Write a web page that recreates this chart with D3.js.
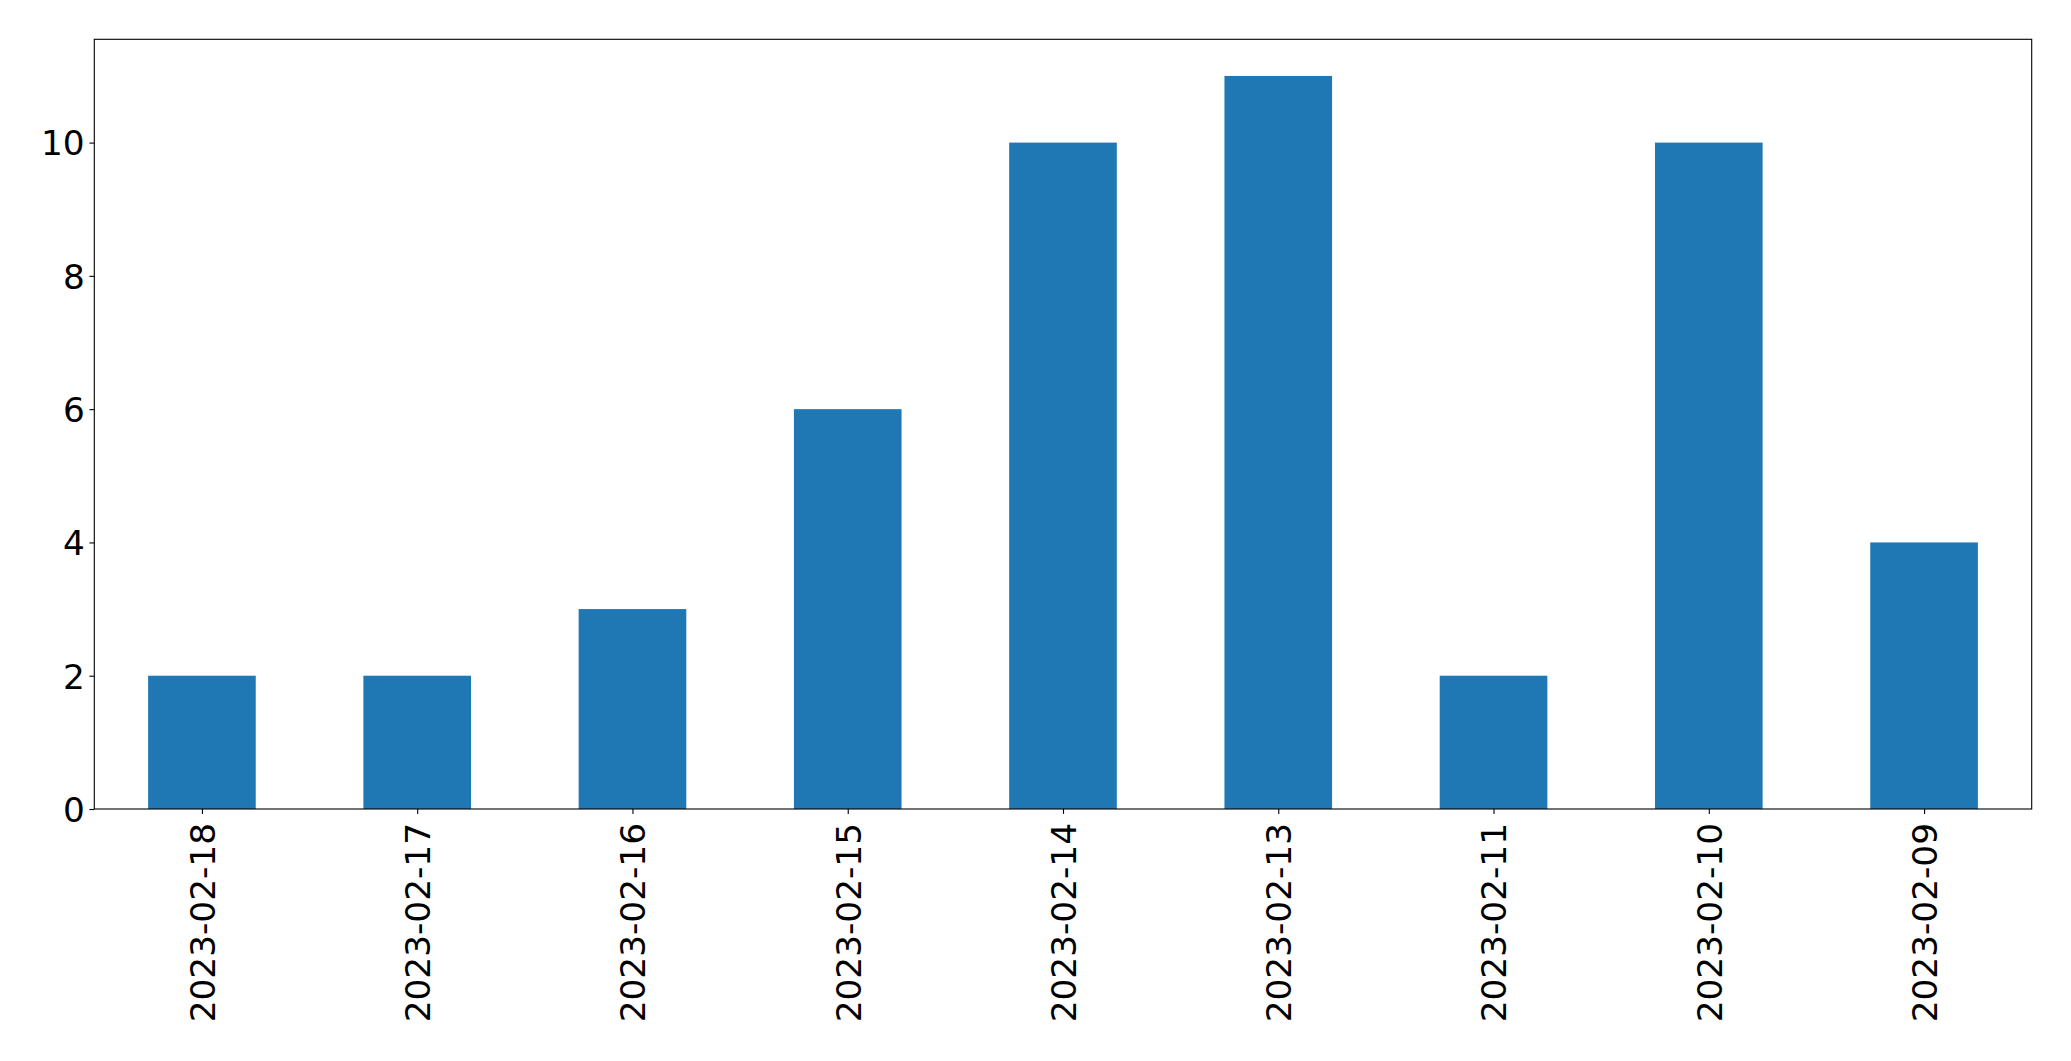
<!DOCTYPE html>
<html>
<head>
<meta charset="utf-8">
<script src="https://cdn.jsdelivr.net/npm/d3@7"></script>
<style>
  html, body { margin: 0; padding: 0; background: #fff; }
  svg { display: block; }
  text { font-family: "DejaVu Sans", sans-serif; fill: #000; }
</style>
</head>
<body>
<script>
const categories = ["2023-02-18","2023-02-17","2023-02-16","2023-02-15","2023-02-14","2023-02-13","2023-02-11","2023-02-10","2023-02-09"];
const values = [2, 2, 3, 6, 10, 11, 2, 10, 4];
const yTicks = [0, 2, 4, 6, 8, 10];

const W = 2071, H = 1061;
const mLeft = 94.3, mRight = 2031.7, mTop = 39.3, mBottom = 809;
const fontSize = 34.3;
const tickLen = 4.9, pad = 4.7;

const svg = d3.select("body").append("svg").attr("width", W).attr("height", H);

const x = d3.scaleLinear().domain([-0.5, categories.length - 0.5]).range([mLeft, mRight]);
const yMax = d3.max(values) * 1.05;
const y = d3.scaleLinear().domain([0, yMax]).range([mBottom, mTop]);

// bars
svg.append("g").selectAll("rect").data(values).join("rect")
  .attr("x", (d, i) => x(i - 0.25))
  .attr("width", (d, i) => x(i + 0.25) - x(i - 0.25))
  .attr("y", d => y(d))
  .attr("height", d => y(0) - y(d))
  .attr("fill", "#1f77b4");

// y axis
const yAxis = d3.axisLeft(y).tickValues(yTicks).tickSize(tickLen).tickPadding(pad).tickFormat(d3.format("d"));
const gy = svg.append("g").attr("transform", `translate(${mLeft},0)`).call(yAxis);
gy.select(".domain").remove();
gy.selectAll(".tick line").attr("stroke", "#000").attr("stroke-width", 1.1);
gy.selectAll(".tick text").attr("font-size", fontSize).attr("font-family", "DejaVu Sans, sans-serif").attr("dy", "0.36em");

// x axis
const xAxis = d3.axisBottom(x).tickValues(d3.range(categories.length)).tickSize(tickLen).tickPadding(pad).tickFormat(i => categories[i]);
const gx = svg.append("g").attr("transform", `translate(0,${mBottom})`).call(xAxis);
gx.select(".domain").remove();
gx.selectAll(".tick line").attr("stroke", "#000").attr("stroke-width", 1.1);
gx.selectAll(".tick text")
  .attr("font-size", fontSize)
  .attr("font-family", "DejaVu Sans, sans-serif")
  .attr("text-anchor", "end")
  .attr("transform", `translate(0,14) rotate(-90)`)
  .attr("x", 0).attr("y", 0).attr("dy", "0.36em");

// frame
svg.append("rect")
  .attr("x", mLeft).attr("y", mTop)
  .attr("width", mRight - mLeft).attr("height", mBottom - mTop)
  .attr("fill", "none").attr("stroke", "#000").attr("stroke-width", 1.1);
</script>
</body>
</html>
